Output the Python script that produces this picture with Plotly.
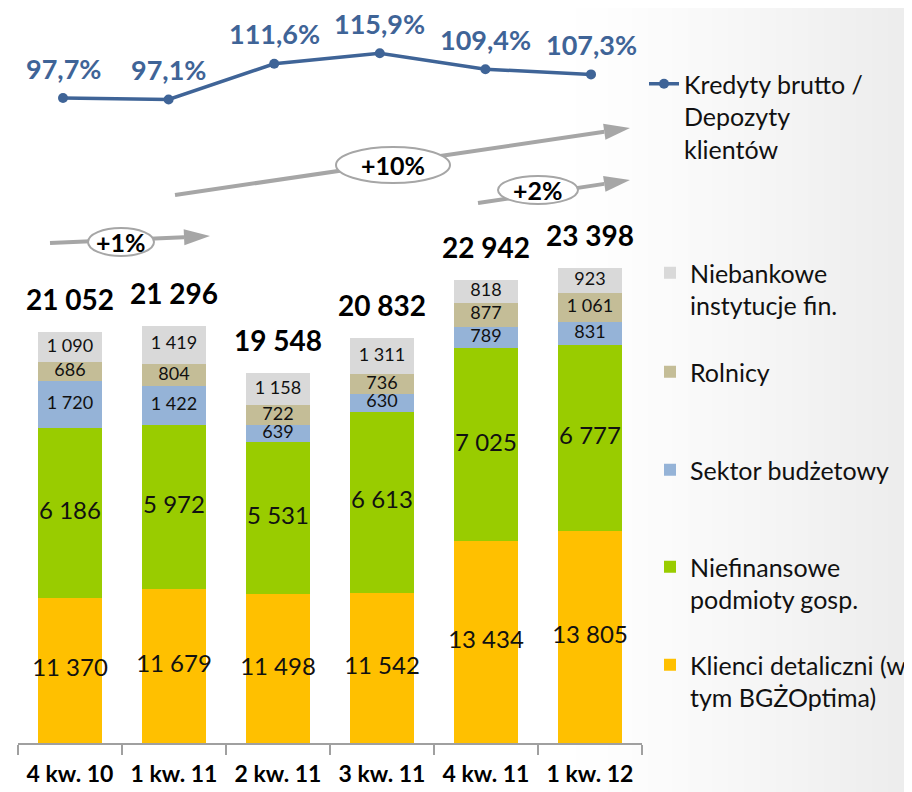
import plotly.graph_objects as go

# ---------------- data ----------------
categories = ["4 kw. 10", "1 kw. 11", "2 kw. 11", "3 kw. 11", "4 kw. 11", "1 kw. 12"]
klienci = [11370, 11679, 11498, 11542, 13434, 13805]
niefinansowe = [6186, 5972, 5531, 6613, 7025, 6777]
budzetowy = [1720, 1422, 639, 630, 789, 831]
rolnicy = [686, 804, 722, 736, 877, 1061]
niebankowe = [1090, 1419, 1158, 1311, 818, 923]
totals = [21052, 21296, 19548, 20832, 22942, 23398]
ratio = [97.7, 97.1, 111.6, 115.9, 109.4, 107.3]
ratio_labels = ["97,7%", "97,1%", "111,6%", "115,9%", "109,4%", "107,3%"]
growth_labels = ["+1%", "+10%", "+2%"]

series = [
    ("Klienci detaliczni (w<br>tym BGŻOptima)", klienci, "#FFC000", 24),
    ("Niefinansowe<br>podmioty gosp.", niefinansowe, "#99CC00", 24),
    ("Sektor budżetowy<br> ", budzetowy, "#95B3D7", 18),
    ("Rolnicy<br> ", rolnicy, "#C4BD97", 18),
    ("Niebankowe<br>instytucje fin.", niebankowe, "#D9D9D9", 18),
]

# ---------------- layout constants ----------------
# the page body has an 8px margin, so the figure is drawn 8px in from the corner
OFF = 8
W, H = 912 - OFF, 792 - OFF
PL, PR, PT, PB = 18, 642, 8, 743          # plot area in page pixels
ML, MR, MT, MB = PL - OFF, W - (PR - OFF), PT - OFF, H - (PB - OFF)
PW, PH = PR - PL, PB - PT
SCALE = 0.0274                            # page px per unit (bars)
YMIN = 6060
YMAX = YMIN + PH / SCALE
S2 = 2.46                                 # page px per percentage point
Y2MAX = 97.7 + (98 - PT) / S2
Y2MIN = 97.7 - (PB - 98) / S2
# the ratio line sits on a slightly wider category spacing than the bars
LX0, LX5 = 63, 591
SPAN = 5 * PW / (LX5 - LX0)
X2MIN = -(LX0 - PL) / PW * SPAN
X2MAX = X2MIN + SPAN
LINE_COLOR = "#3F6497"
GREY = "#A6A6A6"
FONT = "Lato, Carlito, Calibri, Open Sans, sans-serif"


def px(x):
    return (x - PL) / PW


def py(y):
    return (PB - y) / PH


fig = go.Figure()

# stacked bars
legend_tops = [651, 553, 456, 358, 259]
for i, (name, vals, color, fs) in enumerate(series):
    fig.add_trace(go.Bar(
        x=categories, y=vals, name=name, marker_color=color,
        marker_line_width=0, legend=f"legend{i + 2}",
    ))

# segment labels
base = [0] * len(categories)
for name, vals, color, fs in series:
    ys = []
    for j, v in enumerate(vals):
        lo = max(base[j], YMIN)
        hi = base[j] + v
        ys.append((lo + hi) / 2)
        base[j] = hi
    fig.add_trace(go.Scatter(
        x=categories, y=ys, mode="text",
        text=[f"{v:,}".replace(",", " ") for v in vals],
        textposition="middle center",
        textfont=dict(family=FONT, size=fs, color="#111111"),
        showlegend=False, hoverinfo="skip", cliponaxis=False,
    ))

# line
fig.add_trace(go.Scatter(
    x=categories, y=ratio, xaxis="x2", yaxis="y2", mode="lines+markers",
    name="Kredyty brutto /<br>Depozyty<br>klientów",
    line=dict(color=LINE_COLOR, width=3.5),
    marker=dict(color=LINE_COLOR, size=10),
    legend="legend", cliponaxis=False,
))

annotations = []
for c, t in zip(categories, totals):
    annotations.append(dict(
        x=c, y=t, xref="x", yref="y", yshift=33, showarrow=False,
        xanchor="center", yanchor="middle",
        text=f"{t:,}".replace(",", " "),
        font=dict(family=FONT, size=28, color="#000000", weight="bold"),
    ))
for c, r, lab in zip(categories, ratio, ratio_labels):
    annotations.append(dict(
        x=c, y=r, xref="x2", yref="y2", yshift=30, showarrow=False,
        xanchor="center", yanchor="middle", borderpad=0,
        text=lab,
        font=dict(family=FONT, size=27, color=LINE_COLOR, weight="bold"),
    ))

# growth arrows (decoration)
shapes = []
arrows = [
    # tail, tip, ellipse centre, ellipse radii, label
    ((50, 243), (210, 236), (121, 242), (33, 14), growth_labels[0]),
    ((175, 195), (630, 128), (393, 165), (57, 18), growth_labels[1]),
    ((478, 203), (630, 180), (538, 190), (40, 14), growth_labels[2]),
]
for (tx, ty), (hx, hy), (cx, cy), (rx, ry), lab in arrows:
    dx, dy = hx - tx, hy - ty
    L = (dx * dx + dy * dy) ** 0.5
    ux, uy = dx / L, dy / L
    nx, ny = -uy, ux
    hl, hw = 26, 8
    bx, by = hx - ux * hl, hy - uy * hl
    shapes.append(dict(type="line", xref="paper", yref="paper",
                       x0=px(tx), y0=py(ty), x1=px(bx), y1=py(by),
                       line=dict(color=GREY, width=4), layer="above"))
    p1 = (bx + nx * hw, by + ny * hw)
    p2 = (bx - nx * hw, by - ny * hw)
    path = (f"M {px(hx)} {py(hy)} L {px(p1[0])} {py(p1[1])} "
            f"L {px(p2[0])} {py(p2[1])} Z")
    shapes.append(dict(type="path", xref="paper", yref="paper", path=path,
                       fillcolor=GREY, line=dict(color=GREY, width=0),
                       layer="above"))
    shapes.append(dict(type="circle", xref="paper", yref="paper",
                       x0=px(cx - rx), x1=px(cx + rx),
                       y0=py(cy + ry), y1=py(cy - ry),
                       fillcolor="white", line=dict(color=GREY, width=2),
                       layer="above"))
    annotations.append(dict(
        x=px(cx), y=py(cy), xref="paper", yref="paper", showarrow=False,
        xanchor="center", yanchor="middle",
        text=lab, font=dict(family=FONT, size=25, color="#000000",
                            weight="bold"),
    ))

# subtle background gradient at the right edge
n = 44
x_start = 560
for k in range(n):
    x0 = x_start + k * (912 - x_start) / n
    x1 = x_start + (k + 1) * (912 - x_start) / n
    g = int(round(255 - 19 * ((k + 1) / n) ** 1.3))
    shapes.append(dict(type="rect", xref="paper", yref="paper",
                       x0=px(x0), x1=px(x1 + 1), y0=py(800), y1=py(0),
                       fillcolor=f"rgb({g},{g},{g})", line=dict(width=0),
                       layer="below"))

legend_common = dict(
    xanchor="left", yanchor="top", bgcolor="rgba(0,0,0,0)",
    font=dict(family=FONT, size=25, color="#111111"),
    valign="top", itemwidth=30, tracegroupgap=0,
    itemclick=False, itemdoubleclick=False,
)

layout_legends = {"legend": dict(x=px(644), y=py(61), **legend_common)}
for i, top in enumerate(legend_tops):
    layout_legends[f"legend{i + 2}"] = dict(x=px(650), y=py(top - 9),
                                            **legend_common)

fig.update_layout(
    width=W, height=H,
    margin=dict(l=ML, r=MR, t=MT, b=MB, pad=0, autoexpand=False),
    paper_bgcolor="white", plot_bgcolor="rgba(0,0,0,0)",
    barmode="stack", bargap=0.385,
    showlegend=True,
    xaxis=dict(
        type="category", showline=True, linecolor="#A0A0A0", linewidth=1.5,
        ticks="outside", tickson="boundaries", ticklen=10, tickangle=0,
        tickcolor="#A0A0A0", tickwidth=1.5, showgrid=False, zeroline=False,
        ticklabelstandoff=10,
        tickfont=dict(family=FONT, size=23, color="#000000",
                      weight="bold"),
    ),
    xaxis2=dict(type="category", overlaying="x", visible=False,
                range=[X2MIN, X2MAX], fixedrange=True),
    yaxis=dict(range=[YMIN, YMAX], visible=False, fixedrange=True),
    yaxis2=dict(range=[Y2MIN, Y2MAX], overlaying="y", visible=False,
                fixedrange=True),
    shapes=shapes,
    annotations=annotations,
    **layout_legends,
)

fig.write_html("out.html")
